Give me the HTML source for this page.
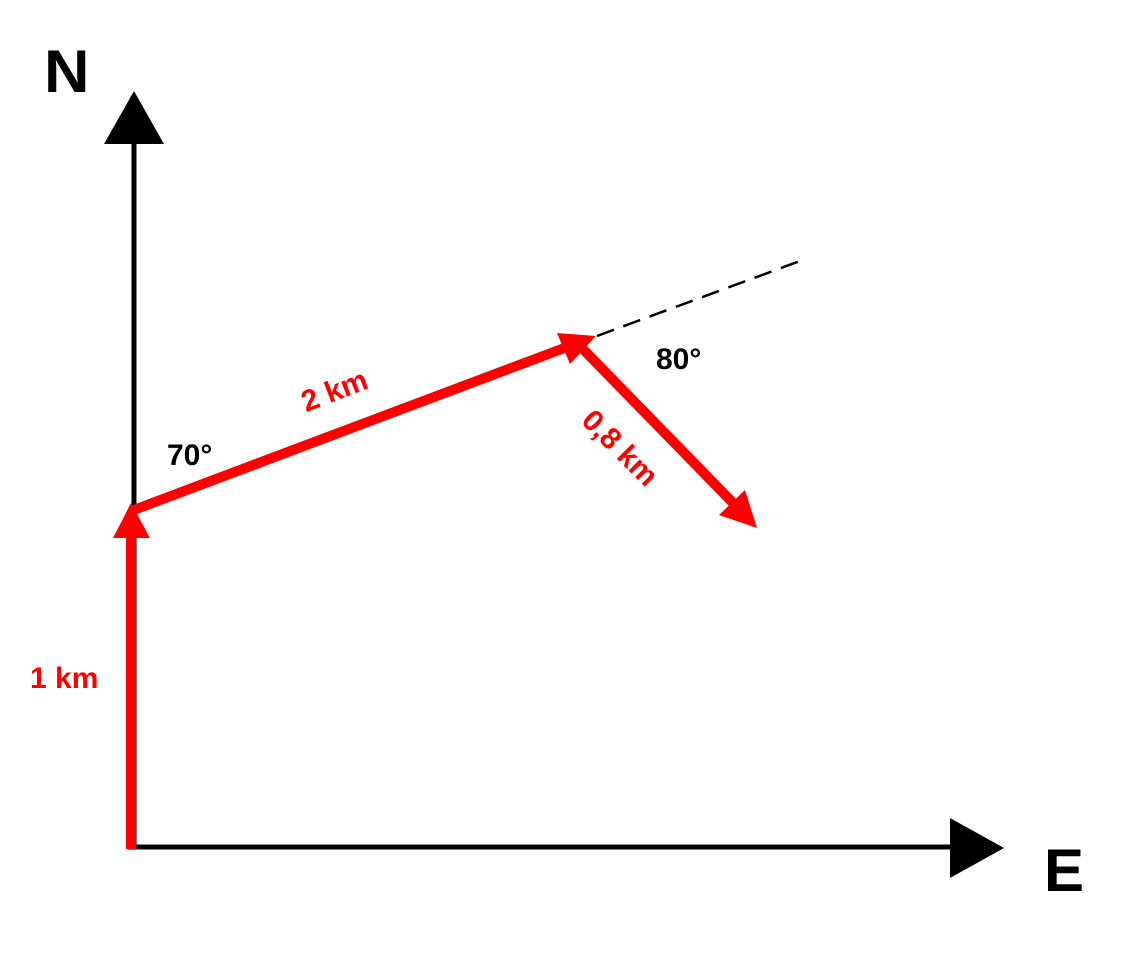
<!DOCTYPE html>
<html><head><style>html,body{margin:0;padding:0;background:#fff}</style></head>
<body>
<svg width="1122" height="954" viewBox="0 0 1122 954" xmlns="http://www.w3.org/2000/svg" style="display:block">
<line x1="134" y1="135" x2="134" y2="849" stroke="#000" stroke-width="5"/>
<polygon points="134,91 104,144 164,144" fill="#000"/>
<line x1="128" y1="847" x2="960" y2="847" stroke="#000" stroke-width="5"/>
<polygon points="1004,848 950,818 950,878" fill="#000"/>
<line x1="597" y1="336" x2="800" y2="261" stroke="#000" stroke-width="2.5" stroke-dasharray="18,10"/>
<line x1="131" y1="849" x2="131" y2="530" stroke="#f00" stroke-width="10"/>
<polygon points="131,503 113,538 150,538" fill="#f00"/>
<line x1="131" y1="511" x2="575" y2="344" stroke="#f00" stroke-width="10"/>
<polygon points="596,336 557,333 570,364" fill="#f00"/>
<line x1="578" y1="344" x2="738" y2="508" stroke="#f00" stroke-width="10"/>
<polygon points="757,528 719,515 745,490" fill="#f00"/>
<g font-family="Liberation Sans, sans-serif" font-weight="bold">
<text x="44" y="92" font-size="60" transform="scale(1.05,1)" transform-origin="44 92">N</text>
<text x="1044" y="891" font-size="60">E</text>
<text x="167" y="465" font-size="30">70°</text>
<text x="656" y="369" font-size="30">80°</text>
<text x="30" y="688" font-size="30" fill="#f00">1 km</text>
<text transform="translate(338,400) rotate(-21)" text-anchor="middle" font-size="30" fill="#f00">2 km</text>
<text transform="translate(613,455) rotate(45)" text-anchor="middle" font-size="30" fill="#f00">0,8 km</text>
</g>
</svg>
</body></html>
